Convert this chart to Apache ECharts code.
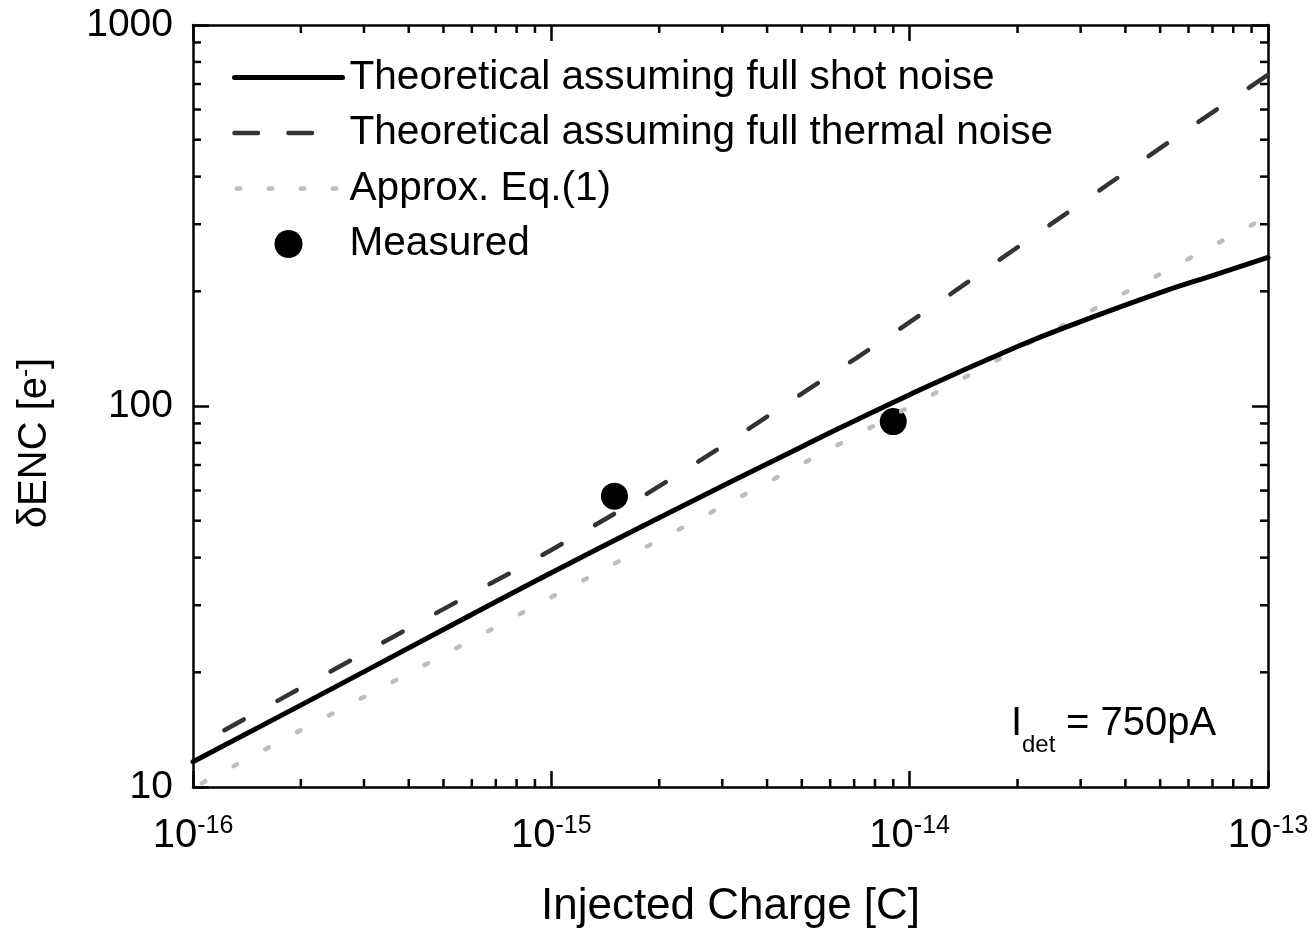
<!DOCTYPE html>
<html>
<head>
<meta charset="utf-8">
<script src="https://cdn.jsdelivr.net/npm/echarts@6/dist/echarts.min.js"></script>
<style>
  html, body { margin: 0; padding: 0; background: #ffffff; }
  #chart { width: 1315px; height: 934px; }
</style>
</head>
<body>
<div id="chart"></div>
<script>
// Injected charge [C] sampled along the theoretical curves
const chargeC = [1e-16, 2e-16, 5e-16, 1e-15, 2e-15, 5e-15, 1e-14, 2e-14, 3e-14, 5e-14, 7e-14, 1e-13];
// dENC [e-] assuming full shot noise
const shotNoise = [11.65, 16.4, 25.9, 36.5, 50.9, 78.2, 107.1, 143.3, 166.5, 198.5, 220, 245.4];
// dENC [e-] assuming full thermal noise
const thermalNoise = [12.7, 18.2, 29.3, 41.9, 61.6, 107.7, 166, 261, 340, 475, 590, 740];
// dENC [e-] from the approximation Eq.(1)
const approxEq1 = [9.95, 14.1, 22.2, 31.5, 44.5, 70.4, 99.5, 141, 172, 222, 263, 315];
// Measured points: injected charge [C], dENC [e-]
const measuredCharge = [1.5e-15, 9e-15];
const measuredENC = [58, 91];

// Axis ranges and minor tick positions
const X_MIN = 1e-16, X_MAX = 1e-13;
const Y_MIN = 10, Y_MAX = 1000;
const xMinorTicks = [2e-16, 3e-16, 4e-16, 5e-16, 6e-16, 7e-16, 8e-16, 9e-16,
                     2e-15, 3e-15, 4e-15, 5e-15, 6e-15, 7e-15, 8e-15, 9e-15,
                     2e-14, 3e-14, 4e-14, 5e-14, 6e-14, 7e-14, 8e-14, 9e-14];
const yMinorTicks = [20, 30, 40, 50, 60, 70, 80, 90,
                     200, 300, 400, 500, 600, 700, 800, 900];

const FONT = '"Liberation Sans", Arial, Helvetica, sans-serif';
const zip = (xs, ys) => xs.map((x, i) => [x, ys[i]]);

const chart = echarts.init(document.getElementById('chart'), null, { renderer: 'canvas' });

const axisLineStyle = { color: '#000', width: 2.5 };
const majorTick = { show: true, inside: true, length: 16, lineStyle: { color: '#000', width: 2.5 } };
const hiddenSymbol = { color: 'rgba(0,0,0,0)', opacity: 0, borderWidth: 0 };

// Minor ticks drawn on all four sides of the frame
const minorTickData = xMinorTicks.map(v => [v, Y_MIN, 0]).concat(yMinorTicks.map(v => [X_MIN, v, 1]));

const SHOT = 'Theoretical assuming full shot noise';
const THERMAL = 'Theoretical assuming full thermal noise';
const APPROX = 'Approx. Eq.(1)';
const MEASURED = 'Measured';

const option = {
  animation: false,
  backgroundColor: '#ffffff',
  grid: { left: 193, right: 47, top: 25, bottom: 147, containLabel: false },
  legend: {
    orient: 'vertical',
    left: 232,
    top: 57,
    padding: 0,
    itemWidth: 108,
    itemHeight: 28,
    itemGap: 14.5,
    selectedMode: false,
    textStyle: { fontFamily: FONT, fontSize: 40.6, color: '#000', lineHeight: 40, padding: [0, 0, 0, 2] },
    data: [
      { name: SHOT, itemStyle: hiddenSymbol,
        lineStyle: { color: '#000', width: 5, type: 'solid', cap: 'round' } },
      { name: THERMAL, itemStyle: hiddenSymbol,
        lineStyle: { color: '#333', width: 4.5, type: [23.5, 30.5], dashOffset: 0, cap: 'round' } },
      { name: APPROX, itemStyle: hiddenSymbol,
        lineStyle: { color: '#bdbdbd', width: 4.5, type: [3.5, 28.5], dashOffset: 29.75, cap: 'round' } },
      { name: MEASURED, itemStyle: { color: '#000', opacity: 1 } }
    ]
  },
  xAxis: [
    {
      type: 'log', logBase: 10, min: X_MIN, max: X_MAX,
      name: 'Injected Charge [C]', nameLocation: 'middle', nameGap: 98,
      nameTextStyle: { fontFamily: FONT, fontSize: 44, color: '#000' },
      axisLine: { show: true, lineStyle: axisLineStyle },
      axisTick: majorTick,
      splitLine: { show: false },
      axisLabel: {
        show: true, margin: 27, showMinLabel: true, showMaxLabel: true,
        formatter: v => '{b|10}{s|' + Math.round(Math.log10(v)) + '}',
        rich: {
          b: { fontFamily: FONT, fontSize: 40, color: '#000', lineHeight: 44 },
          s: { fontFamily: FONT, fontSize: 25, color: '#000', lineHeight: 25, verticalAlign: 'top' }
        }
      }
    },
    {
      type: 'log', logBase: 10, min: X_MIN, max: X_MAX, position: 'top',
      axisLine: { show: true, lineStyle: axisLineStyle },
      axisTick: majorTick, axisLabel: { show: false }, splitLine: { show: false }
    }
  ],
  yAxis: [
    {
      type: 'log', logBase: 10, min: Y_MIN, max: Y_MAX,
      name: '{n|\u03b4ENC [e}{s|-}{n|]}', nameLocation: 'middle', nameGap: 136, nameRotate: 90,
      nameTextStyle: {
        padding: [0, 74, 0, 0],
        rich: {
          n: { fontFamily: FONT, fontSize: 40, color: '#000', lineHeight: 44 },
          s: { fontFamily: FONT, fontSize: 24, color: '#000', lineHeight: 24, verticalAlign: 'top' }
        }
      },
      axisLine: { show: true, lineStyle: axisLineStyle },
      axisTick: majorTick,
      splitLine: { show: false },
      axisLabel: {
        show: true, margin: 20, fontFamily: FONT, fontSize: 39, color: '#000',
        showMinLabel: true, showMaxLabel: true,
        formatter: v => String(Math.round(v))
      }
    },
    {
      type: 'log', logBase: 10, min: Y_MIN, max: Y_MAX, position: 'right',
      axisLine: { show: true, lineStyle: axisLineStyle },
      axisTick: majorTick, axisLabel: { show: false }, splitLine: { show: false }
    }
  ],
  series: [
    {
      name: SHOT, type: 'line', z: 4,
      data: zip(chargeC, shotNoise), symbol: 'none', smooth: 0.5,
      lineStyle: { color: '#000', width: 5, cap: 'round' },
      itemStyle: { color: '#000' }
    },
    {
      name: THERMAL, type: 'line', z: 4,
      data: zip(chargeC, thermalNoise), symbol: 'none', smooth: 0.5,
      lineStyle: { color: '#333', width: 4.5, type: [22, 38.5], dashOffset: 24.5, cap: 'round' },
      itemStyle: { color: '#333' }
    },
    {
      name: APPROX, type: 'line', z: 3,
      data: zip(chargeC, approxEq1), symbol: 'none',
      lineStyle: { color: '#bdbdbd', width: 4.5, type: [4, 32], dashOffset: 26, cap: 'round' },
      itemStyle: { color: '#bdbdbd' }
    },
    {
      name: MEASURED, type: 'scatter', z: 2,
      data: zip(measuredCharge, measuredENC), symbol: 'circle', symbolSize: 27,
      itemStyle: { color: '#000', opacity: 1 }
    },
    {
      name: 'minor ticks', type: 'custom', z: 5, silent: true,
      data: minorTickData,
      encode: { x: 0, y: 1 },
      renderItem: (params, api) => {
        const side = api.value(2);
        const style = { stroke: '#000', lineWidth: 2.5 };
        const L = 8;
        if (side === 0) {
          const v = api.value(0);
          const b = api.coord([v, Y_MIN]);
          const t = api.coord([v, Y_MAX]);
          return { type: 'group', children: [
            { type: 'line', shape: { x1: b[0], y1: b[1], x2: b[0], y2: b[1] - L }, style },
            { type: 'line', shape: { x1: t[0], y1: t[1], x2: t[0], y2: t[1] + L }, style }
          ] };
        }
        const w = api.value(1);
        const l = api.coord([X_MIN, w]);
        const r = api.coord([X_MAX, w]);
        return { type: 'group', children: [
          { type: 'line', shape: { x1: l[0], y1: l[1], x2: l[0] + L, y2: l[1] }, style },
          { type: 'line', shape: { x1: r[0], y1: r[1], x2: r[0] - L, y2: r[1] }, style }
        ] };
      }
    }
  ],
  graphic: [
    { type: 'text', x: 1011, y: 724, style: { text: 'I', fontFamily: FONT, fontSize: 40, fill: '#000', verticalAlign: 'middle' } },
    { type: 'text', x: 1022, y: 745, style: { text: 'det', fontFamily: FONT, fontSize: 24, fill: '#000', verticalAlign: 'middle' } },
    { type: 'text', x: 1066, y: 724, style: { text: '= 750pA', fontFamily: FONT, fontSize: 40, fill: '#000', verticalAlign: 'middle' } }
  ]
};

chart.setOption(option);
</script>
</body>
</html>
